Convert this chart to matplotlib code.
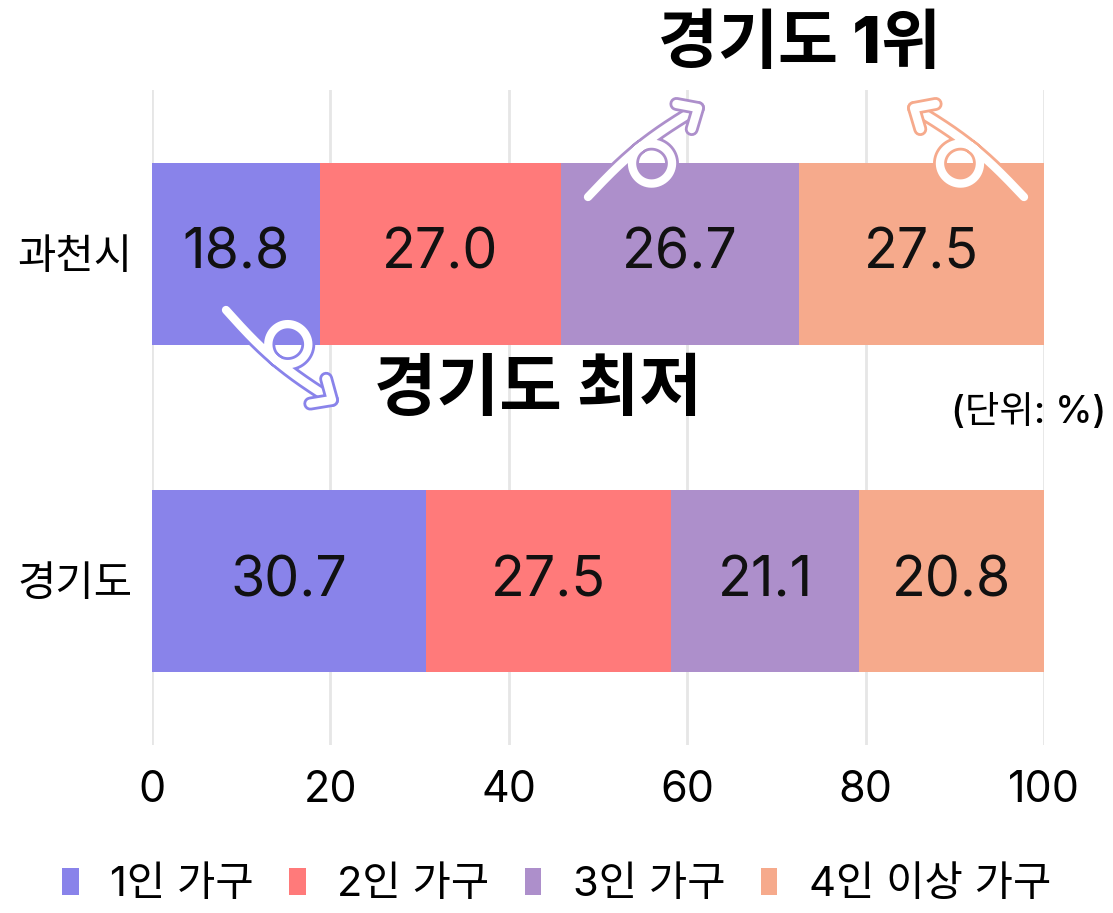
import matplotlib
matplotlib.use('Agg')
import matplotlib.pyplot as plt
import matplotlib.patheffects as pe
import numpy as np

plt.rcParams['font.family'] = ['Inter', 'Noto Sans CJK KR', 'DejaVu Sans']

regions = ['과천시', '경기도']
series = ['1인 가구', '2인 가구', '3인 가구', '4인 이상 가구']
values = {
    '1인 가구': [18.8, 30.7],
    '2인 가구': [27.0, 27.5],
    '3인 가구': [26.7, 21.1],
    '4인 이상 가구': [27.5, 20.8],
}
colors = ['#8983EA', '#FF7A7A', '#AD8FCB', '#F6AA8C']

W, H = 1113, 913
fig = plt.figure(figsize=(W / 100, H / 100), dpi=100)
ax = fig.add_axes([152 / W, 1 - 745 / H, (1044 - 152) / W, (745 - 90) / H])

y = np.arange(len(regions))
left = np.zeros(len(regions))
for name, c in zip(series, colors):
    v = np.array(values[name])
    bars = ax.barh(y, v, left=left, height=0.555, color=c, label=name, zorder=2)
    ax.bar_label(bars, labels=[f'{x:.1f}' for x in v], label_type='center',
                 fontsize=40, color='#111111')
    left += v

ax.set_xlim(0, 100)
ax.set_ylim(1.5, -0.5)
ax.set_xticks(range(0, 101, 20))
ax.set_yticks(y)
ax.set_yticklabels(regions, fontsize=30)
ax.tick_params(axis='both', length=0)
ax.tick_params(axis='x', pad=18, labelsize=31)
ax.tick_params(axis='y', pad=14)
ax.grid(axis='x', color='#e6e6e6', linewidth=2, zorder=0)
ax.grid(axis='y', visible=False)
for s in ax.spines.values():
    s.set_visible(False)

leg = fig.legend(loc='center', bbox_to_anchor=(0.5, 1 - 885 / H), ncol=4, frameon=False,
                 fontsize=30, handlelength=0.4, handleheight=0.6, handletextpad=0.75,
                 columnspacing=0.85)

fig.text(1106 / W, 1 - 413 / H, '(단위: %)', ha='right', va='center', fontsize=27,
         fontweight='medium')
fig.text(800 / W, 1 - 46 / H, '경기도 1위', ha='center', va='center', fontsize=47,
         fontweight='heavy')
fig.text(538 / W, 1 - 392 / H, '경기도 최저', ha='center', va='center', fontsize=49,
         fontweight='heavy')


def loopy_arrow(p0, p1, color, side=1, r=20, at=0.5, bow=6):
    # hand-drawn style arrow: path with one loop, in pixel coords (y down)
    p0, p1 = np.array(p0, float), np.array(p1, float)
    d = p1 - p0
    L = np.hypot(*d)
    u = d / L
    n = np.array([-u[1], u[0]]) * side
    s1 = np.linspace(0, at * L, 60)
    th = np.linspace(0, 2 * np.pi, 120)
    s2 = np.linspace(at * L, L, 60)
    along = np.concatenate([s1, at * L + r * np.sin(th), s2])
    across = np.concatenate([np.zeros_like(s1), r * (1 - np.cos(th)), np.zeros_like(s2)])
    # bend the whole path away from the loop side
    across = across - bow * np.sin(np.pi * np.clip(along / L, 0, 1))
    pts = p0 + np.outer(along, u) + np.outer(across, n)
    tip = pts[-1]
    back = pts[-1] - pts[-6]
    back = back / np.hypot(*back)
    ang = np.deg2rad(42)
    rot = lambda v, a: np.array([v[0] * np.cos(a) - v[1] * np.sin(a),
                                 v[0] * np.sin(a) + v[1] * np.cos(a)])
    h1 = tip - 22 * rot(back, ang)
    h2 = tip - 22 * rot(back, -ang)
    effects = [pe.Stroke(linewidth=10, foreground=color), pe.Normal()]
    for seg in (pts, np.array([h1, tip, h2])):
        xs = seg[:, 0] / W
        ys = 1 - seg[:, 1] / H
        fig.add_artist(plt.Line2D(xs, ys, transform=fig.transFigure, color='white',
                                  linewidth=6, solid_capstyle='round',
                                  solid_joinstyle='round', path_effects=effects))


loopy_arrow((588, 197), (698, 108), '#AD8FCB', side=1)
loopy_arrow((1024, 197), (914, 108), '#F6AA8C', side=-1)
loopy_arrow((226, 310), (332, 400), '#8983EA', side=-1)

fig.savefig('out.png', dpi=100)
